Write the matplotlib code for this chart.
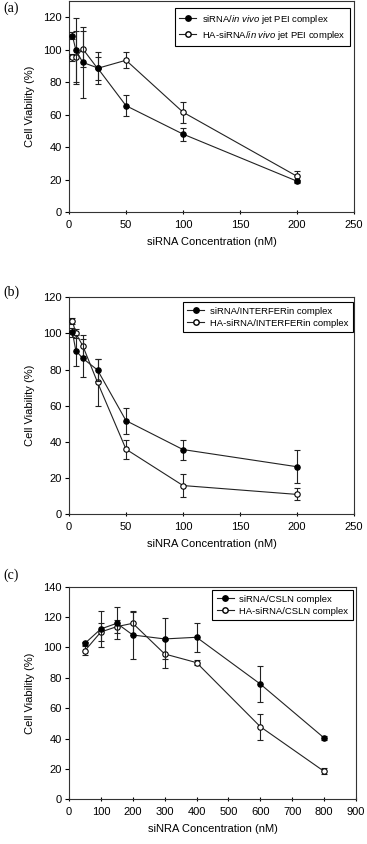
import matplotlib
matplotlib.use("Agg")
import matplotlib.pyplot as plt
import numpy as np
from matplotlib.lines import Line2D

plt.rcParams['font.family'] = ['Liberation Sans', 'DejaVu Sans']
plt.rcParams['mathtext.fontset'] = 'custom'
plt.rcParams['mathtext.rm'] = 'Liberation Sans'
plt.rcParams['mathtext.it'] = 'Liberation Sans:italic'

# ---- Panel (a) data ----
a_x = [3, 6, 12, 25, 50, 100, 200]
a_siRNA = [108.6, 99.8, 92.2, 88.8, 65.5, 48.0, 19.0]
a_siRNA_err = [2.0, 19.5, 21.8, 9.7, 6.5, 4.0, 1.0]
a_HA = [95.3, 95.3, 100.6, 88.5, 93.5, 61.5, 22.0]
a_HA_err = [2.0, 16.5, 11.0, 7.0, 5.0, 6.5, 3.5]
a_labels = ['siRNA/$\\it{in\\ vivo}$ jet PEI complex', 'HA-siRNA/$\\it{in\\ vivo}$ jet PEI complex']

# ---- Panel (b) data ----
b_x = [3, 6, 12, 25, 50, 100, 200]
b_siRNA = [100.6, 90.5, 86.3, 79.8, 51.8, 35.8, 26.3]
b_siRNA_err = [2.5, 8.5, 10.5, 6.0, 7.2, 5.5, 9.0]
b_HA = [107.0, 100.0, 93.3, 73.0, 36.0, 15.9, 11.0]
b_HA_err = [1.5, 2.5, 6.0, 13.0, 5.3, 6.3, 3.3]
b_labels = ['siRNA/INTERFERin complex', 'HA-siRNA/INTERFERin complex']

# ---- Panel (c) data ----
c_x = [50, 100, 150, 200, 300, 400, 600, 800]
c_siRNA = [102.7, 112.2, 115.9, 108.2, 105.6, 106.7, 75.9, 40.4]
c_siRNA_err = [1.0, 11.7, 10.5, 16.0, 13.5, 9.5, 12.0, 1.5]
c_HA = [97.9, 110.2, 113.7, 115.9, 95.7, 90.0, 47.8, 18.4]
c_HA_err = [3.0, 6.0, 4.5, 7.5, 9.0, 1.5, 8.5, 2.0]
c_labels = ['siRNA/CSLN complex', 'HA-siRNA/CSLN complex']

W, H = 367, 844
fig = plt.figure(figsize=(W / 100, H / 100), dpi=100)

def px_axes(l, r, t, b):
    return [l / W, 1 - b / H, (r - l) / W, (b - t) / H]

panels = [
    dict(rect=px_axes(69, 354, 1, 212), x=a_x, s=a_siRNA, se=a_siRNA_err, h=a_HA, he=a_HA_err,
         labels=a_labels, xlim=(0, 250), xt=np.arange(0, 251, 50), ylim=(0, 130), yt=np.arange(0, 121, 20),
         xlabel='siRNA Concentration (nM)', tag='(a)', tag_y=2,
         leg=(163, 8, 350, 43)),
    dict(rect=px_axes(69, 354, 297.3, 514.3), x=b_x, s=b_siRNA, se=b_siRNA_err, h=b_HA, he=b_HA_err,
         labels=b_labels, xlim=(0, 250), xt=np.arange(0, 251, 50), ylim=(0, 120), yt=np.arange(0, 121, 20),
         xlabel='siNRA Concentration (nM)', tag='(b)', tag_y=286,
         leg=(166, 302, 353, 335)),
    dict(rect=px_axes(69, 356, 586.7, 799.3), x=c_x, s=c_siRNA, se=c_siRNA_err, h=c_HA, he=c_HA_err,
         labels=c_labels, xlim=(0, 900), xt=np.arange(0, 901, 100), ylim=(0, 140), yt=np.arange(0, 141, 20),
         xlabel='siNRA Concentration (nM)', tag='(c)', tag_y=569,
         leg=(199, 590, 353, 625)),
]

lw = 0.8
ms = 3.9
for p in panels:
    ax = fig.add_axes(p['rect'])
    ax.errorbar(p['x'], p['h'], yerr=p['he'], color='#222222', lw=lw, elinewidth=lw, capsize=2.2,
                capthick=lw, marker='o', ms=ms, mfc='white', mec='black', mew=0.8, zorder=3)
    ax.errorbar(p['x'], p['s'], yerr=p['se'], color='#222222', lw=lw, elinewidth=lw, capsize=2.2,
                capthick=lw, marker='o', ms=ms, mfc='black', mec='black', mew=0.8, zorder=4)
    ax.set_xlim(*p['xlim'])
    ax.set_ylim(*p['ylim'])
    ax.set_xticks(p['xt'])
    ax.set_yticks(p['yt'])
    ax.tick_params(axis='y', direction='out', length=3, width=0.8, labelsize=8, pad=2)
    ax.tick_params(axis='x', direction='inout', length=3, width=0.8, labelsize=8, pad=4)
    for sp in ax.spines.values():
        sp.set_linewidth(0.8)
        sp.set_color('#333333')
    ax.set_xlabel(p['xlabel'], fontsize=8, labelpad=5)
    ax.set_ylabel('Cell Viability (%)', fontsize=8, labelpad=6)
    fig.text(3 / W, 1 - p['tag_y'] / H, p['tag'], fontsize=10, family=['Liberation Serif'],
             va='top', ha='left')
    handles = [
        Line2D([], [], color='#222222', lw=lw, marker='o', ms=ms, mfc='black', mec='black'),
        Line2D([], [], color='#222222', lw=lw, marker='o', ms=ms, mfc='white', mec='black'),
    ]
    l, t, r, b = p['leg']
    leg = ax.legend(handles, p['labels'], fontsize=6.8, loc='upper right',
                    bbox_to_anchor=(r / W, 1 - t / H), bbox_transform=fig.transFigure,
                    frameon=True, fancybox=False, edgecolor='black', framealpha=1,
                    handlelength=1.8, handletextpad=0.6, borderpad=0.5, labelspacing=0.3,
                    borderaxespad=0)
    leg.get_frame().set_linewidth(0.8)

fig.savefig('out.png', dpi=100)
